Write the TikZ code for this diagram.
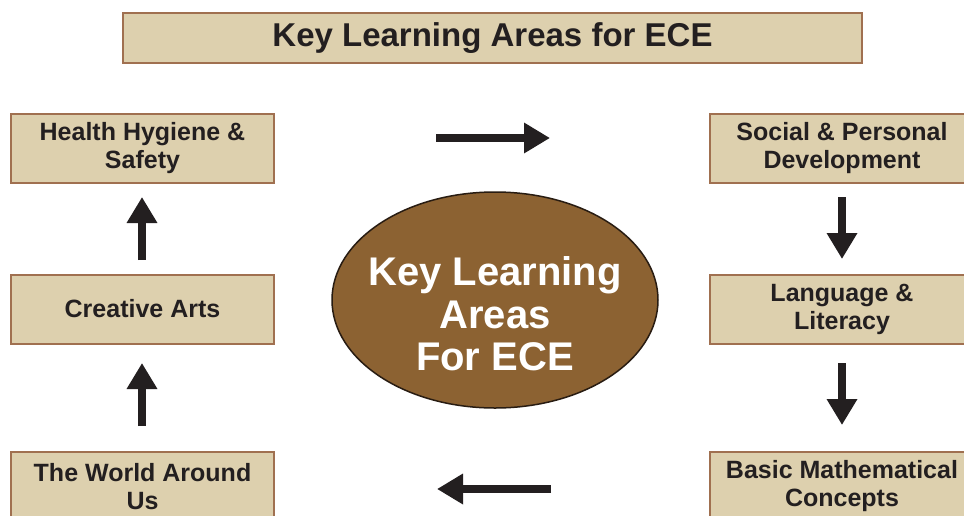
\documentclass[tikz,border=0pt]{standalone}
\usepackage{fontspec}
\setmainfont{Liberation Sans}
\usetikzlibrary{shapes.geometric,arrows.meta}
\definecolor{boxfill}{RGB}{221,208,174}
\definecolor{boxline}{RGB}{160,112,80}
\definecolor{ellfill}{RGB}{140,98,50}
\definecolor{ellline}{RGB}{40,28,18}
\definecolor{ink}{RGB}{35,31,32}
\tikzset{
  x=1pt, y=-1pt,
  areabox/.style={draw=boxline, line width=2pt, fill=boxfill, rectangle,
    minimum width=263pt, minimum height=69pt, inner sep=0pt, align=center,
    text=ink, font=\fontsize{25}{28}\selectfont\bfseries},
  titlebox/.style={draw=boxline, line width=2pt, fill=boxfill, rectangle,
    minimum width=739pt, minimum height=50pt, inner sep=0pt,
    text=ink, font=\fontsize{33}{36}\selectfont\bfseries},
  bigarrow/.style={draw=ink, line width=8pt,
    -{Triangle[length=26pt,width=29pt]}}
}
\begin{document}
\begin{tikzpicture}
\useasboundingbox (0,0) rectangle (964,515);
\clip (0,0) rectangle (964,515);
\fill[white] (0,0) rectangle (964,515);

\node[titlebox] (title) at (492.5,38) {Key Learning Areas for ECE};

\node[areabox] (hhs) at (142.5,148.5) {Health Hygiene \&\\Safety};
\node[areabox] (arts) at (142.5,309) {Creative Arts};
\node[areabox] (world) at (142.5,486.5) {The World Around\\Us};

\node[areabox, minimum width=264pt] (social) at (842,148.5) {Social \& Personal\\Development};
\node[areabox, minimum width=264pt] (lang) at (842,309) {Language \&\\Literacy};
\node[areabox, minimum width=264pt] (math) at (842,486.5) {Basic Mathematical\\Concepts};

\node[ellipse, draw=ellline, line width=1.5pt, fill=ellfill,
      minimum width=326pt, minimum height=216pt, inner sep=0pt] (ell) at (495,300) {};
\node[align=center, text=white, font=\fontsize{40}{42.5}\selectfont\bfseries]
      (elltext) at (495,314) {Key Learning\\Areas\\For ECE};

% arrow end points
\coordinate (t1) at (436,138); \coordinate (h1) at (550,138);
\coordinate (t2) at (842,197); \coordinate (h2) at (842,259);
\coordinate (t3) at (842,363); \coordinate (h3) at (842,425);
\coordinate (t4) at (551,489); \coordinate (h4) at (437,489);
\coordinate (t5) at (142,426); \coordinate (h5) at (142,363);
\coordinate (t6) at (142,260); \coordinate (h6) at (142,197);

\draw[bigarrow] (t1) -- (h1);
\draw[bigarrow] (t2) -- (h2);
\draw[bigarrow] (t3) -- (h3);
\draw[bigarrow] (t4) -- (h4);
\draw[bigarrow] (t5) -- (h5);
\draw[bigarrow] (t6) -- (h6);
\end{tikzpicture}
\end{document}
